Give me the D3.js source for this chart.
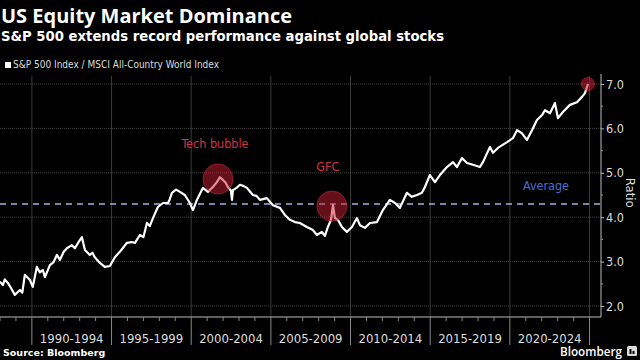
<!DOCTYPE html>
<html><head><meta charset="utf-8">
<script src="https://cdn.jsdelivr.net/npm/d3@7"></script>
<style>
html,body{margin:0;padding:0;background:#000;}
svg{display:block;}
</style></head>
<body>
<svg id="c" width="640" height="360"></svg>
<script>
// ---- data ----
const years = [1988.0,1988.18,1988.3,1988.49,1988.7,1988.93,1989.25,1989.4,1989.56,1989.87,1990.06,1990.31,1990.5,1990.69,1990.82,1991.13,1991.35,1991.57,1991.76,1992.0,1992.2,1992.51,1992.7,1992.95,1993.14,1993.33,1993.64,1993.8,1993.95,1994.27,1994.58,1994.9,1995.21,1995.52,1995.7,1995.96,1996.28,1996.47,1996.78,1997.0,1997.22,1997.4,1997.6,1997.91,1998.22,1998.54,1998.65,1998.79,1999.05,1999.29,1999.6,1999.92,2000.11,2000.36,2000.73,2001.05,2001.36,2001.61,2001.8,2001.99,2002.15,2002.3,2002.49,2002.56,2002.62,2002.85,2003.06,2003.3,2003.5,2003.87,2004.1,2004.31,2004.75,2005.13,2005.57,2005.88,2006.2,2006.51,2006.82,2007.26,2007.64,2007.89,2008.2,2008.39,2008.58,2008.77,2008.9,2009.02,2009.21,2009.46,2009.77,2010.09,2010.4,2010.59,2010.9,2011.22,2011.66,2012.03,2012.47,2012.79,2013.1,2013.54,2013.85,2014.17,2014.48,2014.67,2014.98,2015.3,2015.61,2016.05,2016.43,2016.68,2016.99,2017.31,2017.68,2018.12,2018.31,2018.75,2018.94,2019.25,2019.82,2020.19,2020.45,2020.76,2021.07,2021.39,2021.7,2022.02,2022.2,2022.52,2022.83,2023.02,2023.33,2023.77,2024.21,2024.53,2024.72,2024.9];
const ratio = [2.55,2.47,2.60,2.52,2.40,2.25,2.36,2.30,2.70,2.59,2.43,2.88,2.76,2.81,2.65,2.92,2.98,3.15,3.04,3.22,3.30,3.37,3.30,3.45,3.55,3.26,3.15,3.20,3.10,2.97,2.88,2.90,3.10,3.22,3.30,3.42,3.44,3.42,3.60,3.55,3.87,3.80,3.98,4.23,4.32,4.32,4.40,4.55,4.62,4.57,4.50,4.32,4.16,4.39,4.66,4.57,4.68,4.79,4.90,4.84,4.78,4.68,4.60,4.39,4.61,4.66,4.73,4.70,4.66,4.50,4.48,4.39,4.43,4.27,4.21,4.05,3.94,3.89,3.87,3.78,3.71,3.60,3.67,3.58,3.78,3.94,4.27,3.98,3.94,3.78,3.67,3.78,3.98,3.82,3.76,3.87,3.89,4.16,4.39,4.32,4.21,4.55,4.46,4.50,4.55,4.68,4.95,4.79,4.95,5.13,5.24,5.13,5.33,5.22,5.18,5.13,5.24,5.58,5.45,5.56,5.69,5.78,5.96,5.89,5.74,5.96,6.19,6.30,6.41,6.34,6.57,6.23,6.37,6.53,6.59,6.71,6.80,7.00];
const average = 4.3;
const yTicks = [2,3,4,5,6,7];
const periodLabels = ["1990-1994","1995-1999","2000-2004","2005-2009","2010-2014","2015-2019","2020-2024"];
const periodStarts = [1990,1995,2000,2005,2010,2015,2020];
const annoLabels = ["Tech bubble","GFC"];
const annoYears = [2001.68,2008.83];
const annoValues = [4.86,4.25];
const annoLabelValues = [5.67,5.15];
const lastYear = 2024.9, lastValue = 7.0;

// ---- layout ----
const svg = d3.select("#c");
const W = 640, H = 360;
const plot = {left:0, right:601, top:74, bottom:317};
const x = d3.scaleLinear().domain([1988, 2025.72]).range([plot.left, plot.right]);
const y = d3.scaleLinear().domain([2, 7]).range([306, 84]);
const cond = "'DejaVu Sans Condensed','DejaVu Sans',sans-serif";

svg.append("rect").attr("width",W).attr("height",H).attr("fill","#000");

// titles
svg.append("text").attr("x",1).attr("y",23).attr("fill","#fff")
  .attr("font-family","'Open Sans',sans-serif").attr("font-weight",700).attr("font-size",20)
  .attr("textLength",291).attr("lengthAdjust","spacingAndGlyphs")
  .text("US Equity Market Dominance");
svg.append("text").attr("x",1).attr("y",41).attr("fill","#fff")
  .attr("font-family","'DejaVu Sans',sans-serif").attr("font-weight",700).attr("font-size",14)
  .attr("textLength",443).attr("lengthAdjust","spacingAndGlyphs")
  .text("S&P 500 extends record performance against global stocks");
// legend
svg.append("rect").attr("x",5).attr("y",62).attr("width",6).attr("height",6).attr("fill","#fff");
svg.append("text").attr("x",13).attr("y",68).attr("fill","#ddd")
  .attr("font-family",cond).attr("font-size",10)
  .attr("textLength",206).attr("lengthAdjust","spacingAndGlyphs")
  .text("S&P 500 Index / MSCI All-Country World Index");

// gridlines
const gridYears = d3.range(1990, 2026, 5);
svg.append("g").selectAll("line").data(gridYears).join("line")
  .attr("x1",d=>x(d)).attr("x2",d=>x(d)).attr("y1",plot.top+2).attr("y2",plot.bottom)
  .attr("stroke","#3a3a3a").attr("stroke-width",1);
svg.append("g").selectAll("line").data(yTicks).join("line")
  .attr("x1",plot.left).attr("x2",plot.right).attr("y1",d=>y(d)).attr("y2",d=>y(d))
  .attr("stroke","#444").attr("stroke-width",1).attr("stroke-dasharray","1,1");

// average line
svg.append("line").attr("x1",plot.left).attr("x2",plot.right)
  .attr("y1",y(average)).attr("y2",y(average))
  .attr("stroke","#9fb3e6").attr("stroke-width",1.5).attr("stroke-dasharray","6,5");
svg.append("text").attr("x",546).attr("y",y(average)-14).attr("text-anchor","middle")
  .attr("fill","#4d6fd1").attr("font-family",cond).attr("font-size",12.5).text("Average");

// data line
const line = d3.line().x((d,i)=>x(years[i])).y(d=>y(d)).curve(d3.curveLinear);
svg.append("path").datum(ratio).attr("d",line).attr("fill","none")
  .attr("stroke","#fff").attr("stroke-width",2.2).attr("stroke-linejoin","round");

// annotations
annoYears.forEach((yr,i)=>{
  svg.append("circle").attr("cx",x(yr)).attr("cy",y(annoValues[i])).attr("r",15)
    .attr("fill","rgb(200,30,50)").attr("fill-opacity",0.5)
    .attr("stroke","rgb(200,40,60)").attr("stroke-opacity",0.6).attr("stroke-width",1);
  svg.append("text").attr("x",x(yr)+(i===0?-3:-4)).attr("y",y(annoLabelValues[i])+5)
    .attr("text-anchor","middle").attr("fill","#d0344a")
    .attr("font-family",cond).attr("font-size",12.5).text(annoLabels[i]);
});
svg.append("circle").attr("cx",x(lastYear)).attr("cy",y(lastValue)).attr("r",6.5)
  .attr("fill","rgb(200,30,50)").attr("fill-opacity",0.55)
  .attr("stroke","rgb(200,40,60)").attr("stroke-opacity",0.6);

// right axis
const yAxis = d3.axisRight(y).tickValues(yTicks).tickFormat(d3.format(".1f")).tickSize(3).tickPadding(2);
const gy = svg.append("g").attr("transform",`translate(${plot.right},0)`).call(yAxis);
gy.select(".domain").attr("stroke","#bbb").attr("d",`M0,${plot.top}V${plot.bottom}`);
gy.selectAll(".tick line").attr("stroke","#bbb");
gy.selectAll(".tick text").attr("fill","#ddd").attr("font-family",cond).attr("font-size",12.5);
svg.append("g").selectAll("line").data([2.5,3.5,4.5,5.5,6.5]).join("line")
  .attr("x1",plot.right).attr("x2",plot.right+2).attr("y1",d=>y(d)).attr("y2",d=>y(d))
  .attr("stroke","#999");
svg.append("text").attr("transform",`translate(626,${y(4.55)}) rotate(90)`)
  .attr("text-anchor","middle").attr("fill","#ddd").attr("font-family",cond).attr("font-size",13)
  .text("Ratio");

// bottom axis
svg.append("line").attr("x1",plot.left).attr("x2",plot.right).attr("y1",plot.bottom).attr("y2",plot.bottom)
  .attr("stroke","#bbb");
svg.append("g").selectAll("line").data(d3.range(1988, 2026)).join("line")
  .attr("x1",d=>x(d)).attr("x2",d=>x(d)).attr("y1",plot.bottom).attr("y2",d=> d%5===0 ? 345 : plot.bottom+4)
  .attr("stroke","#888");
svg.append("g").selectAll("text").data(periodLabels).join("text")
  .attr("x",(d,i)=>x(periodStarts[i]+2.5)).attr("y",343).attr("text-anchor","middle")
  .attr("fill","#ddd").attr("font-family",cond).attr("font-size",13).text(d=>d);

// footer
svg.append("text").attr("x",3).attr("y",356).attr("fill","#fff")
  .attr("font-family","'DejaVu Sans',sans-serif").attr("font-weight",700).attr("font-size",9.5)
  .text("Source: Bloomberg");
svg.append("text").attr("x",622).attr("y",356).attr("text-anchor","end").attr("fill","#fff")
  .attr("font-family","'Open Sans',sans-serif").attr("font-size",12.5).attr("font-weight",600)
  .attr("textLength",62).attr("lengthAdjust","spacingAndGlyphs").text("Bloomberg");
svg.append("rect").attr("x",627).attr("y",346).attr("width",10).attr("height",10).attr("rx",1.5).attr("fill","#ddd");
svg.append("rect").attr("x",629.5).attr("y",349).attr("width",2).attr("height",5).attr("fill","#000");
svg.append("rect").attr("x",632.5).attr("y",351).attr("width",2).attr("height",3).attr("fill","#000");
</script>
</body></html>
